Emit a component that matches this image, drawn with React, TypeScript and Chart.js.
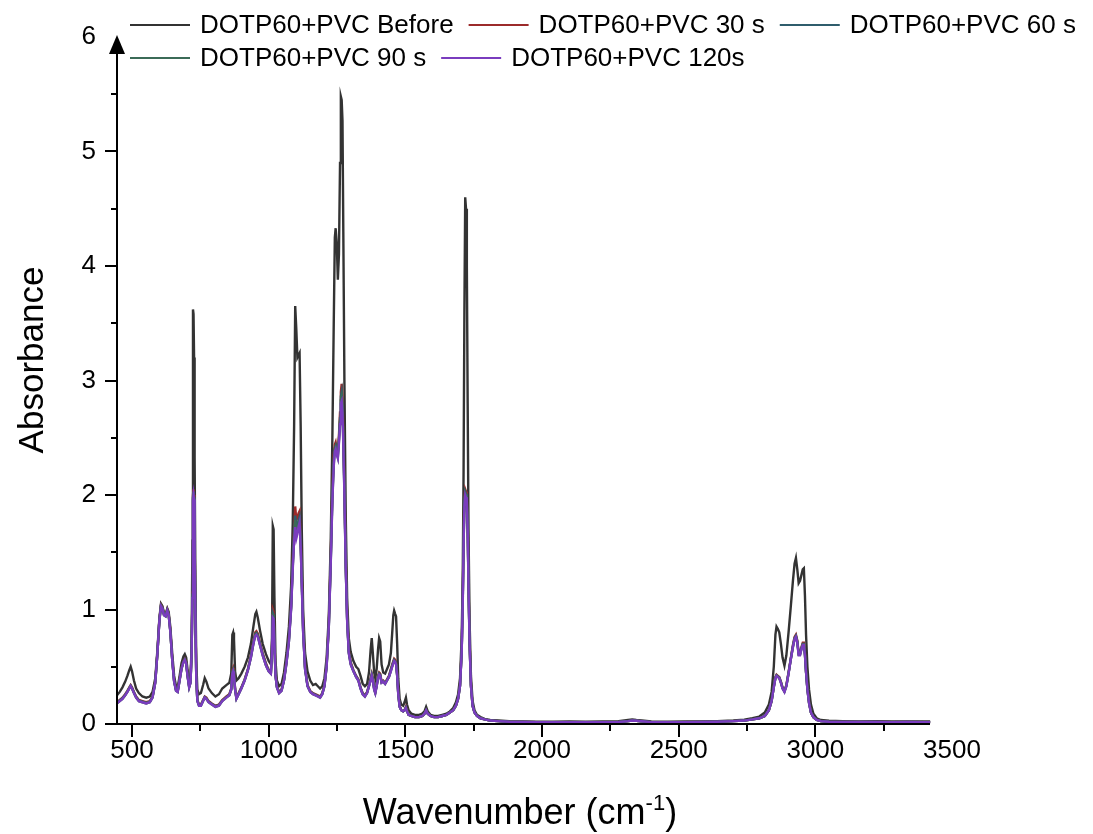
import React, { useEffect, useRef } from 'react';
import { Chart, registerables } from 'chart.js';

Chart.register(...registerables);

// ---------- data ----------
const WAVENUMBER = [
  445, 455, 465, 475, 483, 490, 495, 500, 507, 515, 525, 538, 552, 565, 575,
  585, 593, 600, 606, 611, 617, 623, 629, 634, 640, 647, 654, 661, 667, 674,
  681, 688, 693, 698, 703, 709, 714, 718, 721, 723, 725, 727, 729, 732, 735,
  739, 745, 752, 760, 766, 772, 780, 792, 805, 818, 830, 845, 856, 863, 867,
  870, 873, 877, 882, 890, 900, 912, 924, 935, 944, 951, 955, 960, 968, 978,
  990, 1000, 1008, 1012, 1015, 1018, 1021, 1025, 1030, 1038, 1047, 1056, 1065, 1074, 1082,
  1088, 1093, 1097, 1101, 1105, 1109, 1113, 1117, 1121, 1126, 1133, 1142, 1152, 1162, 1172,
  1180, 1188, 1196, 1204, 1212, 1220, 1227, 1233, 1238, 1242, 1245, 1249, 1253, 1257, 1261,
  1264, 1267, 1270, 1273, 1277, 1282, 1287, 1293, 1300, 1310, 1320, 1328, 1336, 1344, 1352,
  1360, 1367, 1373, 1377, 1381, 1386, 1390, 1395, 1400, 1404, 1408, 1413, 1419, 1426, 1433,
  1440, 1447, 1452, 1456, 1459, 1463, 1466, 1470, 1474, 1479, 1485, 1492, 1497, 1502, 1506,
  1512, 1522, 1535, 1550, 1562, 1570, 1576, 1582, 1592, 1605, 1620, 1635, 1650, 1663, 1675,
  1685, 1693, 1700, 1706, 1710, 1713, 1716, 1719, 1722, 1725, 1728, 1731, 1735, 1740, 1746,
  1753, 1762, 1775, 1790, 1810, 1840, 1880, 1930, 1980, 2040, 2100, 2160, 2220, 2280, 2315,
  2330, 2345, 2365, 2400, 2460, 2520, 2580, 2640, 2700, 2740, 2770, 2795, 2815, 2830, 2840,
  2848, 2854, 2858, 2863, 2868, 2874, 2880, 2887, 2894, 2902, 2910, 2918, 2924, 2929, 2934,
  2939, 2944, 2949, 2954, 2958, 2962, 2966, 2971, 2977, 2984, 2993, 3005, 3020, 3050, 3100,
  3160, 3220, 3280, 3340, 3400, 3420,
];

const BEFORE = [
  .25, .28, .32, .37, .42, .47, .50, .46, .38, .31, .27, .24, .23, .24, .28,
  .40, .65, .92, 1.05, 1.03, .97, .96, 1.01, .98, .85, .62, .42, .33, .32, .42,
  .53, .59, .61, .58, .48, .37, .40, .70, 1.60, 3.62, 3.58, 3.20, 2.33, 1.20, .55,
  .30, .26, .27, .34, .40, .37, .31, .27, .24, .26, .31, .34, .36, .44, .78,
  .80, .74, .46, .38, .40, .44, .50, .58, .70, .85, .96, .98, .93, .82, .70,
  .61, .55, .52, .75, 1.73, 1.70, 1.10, .55, .38, .33, .35, .45, .62, .85, 1.20,
  1.75, 2.60, 3.65, 3.45, 3.20, 3.22, 3.24, 2.60, 1.70, 1.00, .62, .46, .38, .34, .35,
  .33, .31, .33, .40, .58, .95, 1.60, 2.50, 3.50, 4.25, 4.33, 4.20, 3.88, 4.10, 4.90,
  5.48, 5.45, 5.27, 4.30, 3.00, 1.80, 1.10, .75, .63, .55, .50, .48, .42, .35, .33,
  .35, .45, .65, .75, .62, .45, .40, .48, .65, .75, .72, .52, .45, .44, .48,
  .52, .62, .80, .95, .99, .96, .94, .70, .40, .22, .17, .16, .19, .23, .17,
  .12, .09, .08, .08, .09, .11, .15, .11, .08, .07, .07, .08, .09, .11, .14,
  .19, .26, .40, .75, 1.30, 2.20, 3.60, 4.60, 4.50, 4.00, 2.80, 1.70, .90, .42, .20,
  .12, .08, .06, .045, .035, .03, .025, .022, .02, .02, .022, .02, .022, .025, .035,
  .04, .035, .03, .022, .02, .022, .022, .025, .03, .038, .05, .065, .1, .17, .28,
  .5, .78, .85, .83, .8, .7, .58, .51, .6, .8, 1.02, 1.25, 1.4, 1.45, 1.35,
  1.23, 1.25, 1.3, 1.35, 1.36, 1.12, .78, .5, .3, .17, .09, .05, .035, .028, .025,
  .022, .024, .022, .023, .022, .022,
];

const S30 = [
  .19, .21, .23, .26, .29, .32, .34, .32, .28, .24, .21, .20, .19, .20, .24,
  .37, .63, .91, 1.04, 1.02, .96, .95, 1.00, .96, .82, .57, .38, .30, .29, .39,
  .49, .55, .57, .54, .43, .33, .37, .64, 1.15, 2.00, 2.05, 2.00, 1.60, .93, .42,
  .21, .17, .17, .21, .24, .23, .20, .18, .16, .17, .21, .24, .26, .31, .47,
  .49, .45, .31, .23, .27, .32, .39, .48, .60, .72, .80, .81, .79, .71, .62,
  .53, .47, .45, .64, 1.00, .98, .74, .43, .33, .28, .30, .39, .55, .75, 1.04,
  1.42, 1.70, 1.90, 1.78, 1.80, 1.84, 1.86, 1.62, 1.28, .84, .50, .34, .29, .27, .26,
  .25, .24, .27, .34, .52, .88, 1.46, 2.05, 2.35, 2.44, 2.46, 2.40, 2.38, 2.52, 2.72,
  2.90, 2.97, 2.85, 2.55, 2.08, 1.40, .93, .64, .54, .47, .42, .39, .32, .27, .25,
  .28, .34, .40, .44, .40, .31, .28, .34, .42, .45, .44, .37, .38, .36, .39,
  .42, .48, .52, .55, .57, .56, .54, .44, .27, .16, .12, .11, .12, .15, .12,
  .08, .07, .06, .06, .07, .09, .12, .09, .07, .06, .06, .07, .08, .10, .12,
  .16, .22, .34, .64, 1.10, 1.63, 1.97, 2.05, 2.03, 1.97, 1.75, 1.24, .72, .34, .16,
  .10, .07, .05, .04, .03, .025, .02, .018, .016, .015, .016, .015, .016, .018, .025,
  .03, .028, .024, .016, .015, .016, .017, .02, .025, .03, .04, .05, .07, .12, .2,
  .33, .41, .43, .42, .41, .37, .32, .29, .34, .45, .57, .69, .76, .78, .73,
  .62, .62, .67, .71, .71, .62, .46, .31, .19, .1, .06, .035, .025, .02, .018,
  .017, .018, .016, .017, .016, .016,
];

const S60 = [
  .185, .205, .225, .255, .285, .315, .335, .315, .275, .235, .205, .195, .185, .195, .235,
  .365, .625, .905, 1.035, 1.015, .955, .945, .995, .955, .815, .565, .375, .295, .285, .385,
  .485, .545, .565, .535, .425, .325, .365, .63, 1.13, 1.98, 2.03, 1.98, 1.58, .92, .41,
  .205, .165, .165, .205, .235, .225, .195, .175, .155, .165, .205, .235, .255, .305, .455,
  .475, .435, .305, .225, .265, .315, .385, .475, .59, .71, .785, .795, .775, .70, .61,
  .52, .465, .445, .63, .97, .95, .72, .425, .325, .275, .295, .385, .54, .735, 1.02,
  1.39, 1.66, 1.82, 1.70, 1.73, 1.78, 1.81, 1.59, 1.25, .82, .49, .335, .285, .265, .255,
  .245, .235, .265, .335, .51, .865, 1.43, 2.0, 2.30, 2.41, 2.43, 2.38, 2.35, 2.49, 2.67,
  2.86, 2.90, 2.79, 2.50, 2.04, 1.38, .915, .63, .53, .465, .415, .385, .315, .265, .245,
  .275, .335, .39, .43, .39, .305, .275, .335, .41, .44, .43, .365, .375, .355, .385,
  .415, .47, .51, .54, .56, .55, .53, .43, .265, .155, .12, .11, .12, .145, .115,
  .08, .07, .06, .06, .07, .09, .12, .09, .07, .06, .06, .07, .08, .10, .12,
  .16, .22, .335, .63, 1.08, 1.59, 1.94, 2.03, 2.01, 1.95, 1.73, 1.22, .71, .335, .16,
  .10, .07, .05, .04, .03, .025, .02, .018, .016, .015, .016, .015, .016, .018, .025,
  .03, .028, .024, .016, .015, .016, .017, .02, .025, .03, .04, .05, .07, .12, .2,
  .325, .405, .425, .415, .405, .365, .315, .285, .335, .445, .565, .68, .75, .77, .72,
  .61, .61, .66, .70, .70, .61, .455, .305, .185, .1, .06, .035, .025, .02, .018,
  .017, .018, .016, .017, .016, .016,
];

const S90 = [
  .18, .20, .22, .25, .28, .31, .33, .31, .27, .23, .20, .19, .18, .19, .23,
  .36, .62, .90, 1.03, 1.01, .95, .94, .99, .95, .81, .56, .37, .29, .28, .38,
  .48, .54, .56, .53, .42, .32, .36, .62, 1.12, 1.97, 2.02, 1.97, 1.57, .91, .40,
  .20, .16, .16, .20, .23, .22, .19, .17, .15, .16, .20, .23, .25, .30, .45,
  .47, .43, .30, .22, .26, .31, .38, .47, .58, .70, .78, .79, .77, .69, .60,
  .51, .46, .44, .62, .95, .94, .71, .42, .32, .27, .29, .38, .53, .72, 1.01,
  1.37, 1.63, 1.78, 1.66, 1.69, 1.75, 1.78, 1.57, 1.23, .81, .48, .33, .28, .26, .25,
  .24, .23, .26, .33, .50, .855, 1.41, 1.97, 2.27, 2.40, 2.42, 2.37, 2.33, 2.47, 2.64,
  2.83, 2.86, 2.76, 2.47, 2.02, 1.36, .91, .62, .52, .46, .41, .38, .31, .26, .24,
  .27, .33, .385, .425, .385, .30, .27, .33, .405, .435, .425, .36, .37, .35, .38,
  .41, .465, .505, .535, .555, .545, .525, .425, .26, .15, .12, .11, .12, .14, .11,
  .08, .07, .06, .06, .07, .09, .12, .09, .07, .06, .06, .07, .08, .10, .12,
  .16, .22, .333, .625, 1.065, 1.57, 1.92, 2.02, 2.00, 1.94, 1.72, 1.21, .705, .333, .16,
  .10, .07, .05, .04, .03, .025, .02, .018, .016, .015, .016, .015, .016, .018, .025,
  .03, .028, .024, .016, .015, .016, .017, .02, .025, .03, .04, .05, .07, .12, .2,
  .322, .402, .422, .412, .402, .362, .312, .282, .332, .442, .562, .675, .745, .765, .715,
  .605, .605, .655, .695, .695, .605, .452, .302, .182, .1, .06, .035, .025, .02, .018,
  .017, .018, .016, .017, .016, .016,
];

const S120 = [
  .18, .20, .22, .25, .28, .31, .33, .31, .27, .23, .20, .19, .18, .19, .23,
  .36, .62, .90, 1.03, 1.01, .95, .94, .99, .95, .81, .56, .37, .29, .28, .38,
  .48, .54, .56, .53, .42, .32, .36, .62, 1.10, 1.95, 2.00, 1.96, 1.55, .90, .40,
  .20, .16, .16, .20, .23, .22, .19, .17, .15, .16, .20, .23, .25, .30, .44,
  .46, .42, .30, .22, .26, .31, .38, .47, .58, .70, .77, .78, .76, .69, .60,
  .51, .46, .44, .62, .93, .92, .70, .42, .32, .27, .29, .38, .53, .72, 1.00,
  1.35, 1.60, 1.72, 1.62, 1.66, 1.72, 1.76, 1.55, 1.22, .80, .48, .33, .28, .26, .25,
  .24, .23, .26, .33, .50, .85, 1.40, 1.95, 2.25, 2.38, 2.40, 2.35, 2.32, 2.45, 2.62,
  2.80, 2.82, 2.72, 2.45, 2.00, 1.35, .90, .62, .52, .46, .41, .38, .31, .26, .24,
  .27, .33, .38, .42, .38, .30, .27, .33, .40, .43, .42, .36, .37, .35, .38,
  .41, .46, .50, .53, .55, .54, .52, .42, .26, .15, .12, .11, .12, .14, .11,
  .08, .07, .06, .06, .07, .09, .12, .09, .07, .06, .06, .07, .08, .10, .12,
  .16, .22, .33, .62, 1.05, 1.55, 1.90, 2.00, 1.98, 1.92, 1.70, 1.20, .70, .33, .16,
  .10, .07, .05, .04, .03, .025, .02, .018, .016, .015, .016, .015, .016, .018, .025,
  .03, .028, .024, .016, .015, .016, .017, .02, .025, .03, .04, .05, .07, .12, .2,
  .32, .4, .42, .41, .4, .36, .31, .28, .33, .44, .56, .67, .74, .76, .71,
  .6, .6, .65, .69, .69, .6, .45, .3, .18, .1, .06, .035, .025, .02, .018,
  .017, .018, .016, .017, .016, .016,
];

const SERIES_LABELS = [
  'DOTP60+PVC Before',
  'DOTP60+PVC 30 s',
  'DOTP60+PVC 60 s',
  'DOTP60+PVC 90 s',
  'DOTP60+PVC 120s',
];
const SERIES_COLORS = ['#333333', '#9c2b2b', '#2f5d6c', '#3b6b57', '#7a3cbe'];

const X_LABEL_TICKS = [500, 1000, 1500, 2000, 2500, 3000, 3500];
const Y_LABEL_TICKS = [0, 1, 2, 3, 4, 5, 6];
const X_MAJOR_TICKS = [500, 1000, 1500, 2000, 2500, 3000];
const X_MINOR_TICKS = [750, 1250, 1750, 2250, 2750, 3250];
const Y_MAJOR_TICKS = [0, 1, 2, 3, 4, 5];
const Y_MINOR_TICKS = [0.5, 1.5, 2.5, 3.5, 4.5, 5.5];

const X_MIN = 445;
const X_MAX = 3500;
const X_AXIS_END = 3420;
const Y_MIN = 0;
const Y_MAX = 6;

const X_TITLE = 'Wavenumber (cm';
const X_TITLE_SUP = '-1';
const Y_TITLE = 'Absorbance';

const FONT = "'Liberation Sans', Arial, Helvetica, sans-serif";

// ---------- decorations (Origin-style axes, titles, legend) ----------
const originDecor = {
  id: 'originDecor',
  afterDraw(chart: any) {
    const { ctx } = chart;
    const xs = chart.scales.x;
    const ys = chart.scales.y;
    const x0 = Math.round(xs.getPixelForValue(X_MIN));
    const x1 = Math.round(xs.getPixelForValue(X_AXIS_END));
    const y0 = Math.round(ys.getPixelForValue(Y_MIN));
    const yTop = Math.round(ys.getPixelForValue(Y_MAX));

    ctx.save();
    ctx.strokeStyle = '#000';
    ctx.fillStyle = '#000';
    ctx.lineWidth = 2;
    ctx.lineCap = 'butt';

    // x axis line
    ctx.beginPath();
    ctx.moveTo(x0 - 1, y0);
    ctx.lineTo(x1, y0);
    ctx.stroke();
    // x ticks
    X_MAJOR_TICKS.forEach((v) => {
      const px = Math.round(xs.getPixelForValue(v));
      ctx.beginPath();
      ctx.moveTo(px, y0);
      ctx.lineTo(px, y0 + 13);
      ctx.stroke();
    });
    X_MINOR_TICKS.forEach((v) => {
      if (v > X_AXIS_END) return;
      const px = Math.round(xs.getPixelForValue(v));
      ctx.beginPath();
      ctx.moveTo(px, y0);
      ctx.lineTo(px, y0 + 7);
      ctx.stroke();
    });

    // y axis line with arrow
    ctx.beginPath();
    ctx.moveTo(x0, y0 + 1);
    ctx.lineTo(x0, yTop + 12);
    ctx.stroke();
    ctx.beginPath();
    ctx.moveTo(x0, yTop - 2);
    ctx.lineTo(x0 - 8, yTop + 17);
    ctx.lineTo(x0 + 8, yTop + 17);
    ctx.closePath();
    ctx.fill();
    // y ticks
    Y_MAJOR_TICKS.forEach((v) => {
      const py = Math.round(ys.getPixelForValue(v));
      ctx.beginPath();
      ctx.moveTo(x0, py);
      ctx.lineTo(x0 - 12, py);
      ctx.stroke();
    });
    Y_MINOR_TICKS.forEach((v) => {
      const py = Math.round(ys.getPixelForValue(v));
      ctx.beginPath();
      ctx.moveTo(x0, py);
      ctx.lineTo(x0 - 6, py);
      ctx.stroke();
    });

    // axis titles
    ctx.fillStyle = '#000';
    ctx.textBaseline = 'alphabetic';
    ctx.font = `36px ${FONT}`;
    const mainW = ctx.measureText(X_TITLE).width;
    ctx.font = `22px ${FONT}`;
    const supW = ctx.measureText(X_TITLE_SUP).width;
    ctx.font = `36px ${FONT}`;
    const closeW = ctx.measureText(')').width;
    const totalW = mainW + supW + closeW;
    let tx = 520 - totalW / 2;
    const ty = 824;
    ctx.textAlign = 'left';
    ctx.fillText(X_TITLE, tx, ty);
    tx += mainW;
    ctx.font = `22px ${FONT}`;
    ctx.fillText(X_TITLE_SUP, tx, ty - 14);
    tx += supW;
    ctx.font = `36px ${FONT}`;
    ctx.fillText(')', tx, ty);

    ctx.save();
    ctx.translate(43, 360);
    ctx.rotate(-Math.PI / 2);
    ctx.textAlign = 'center';
    ctx.font = `35px ${FONT}`;
    ctx.fillText(Y_TITLE, 0, 0);
    ctx.restore();

    // legend (two rows, Origin style)
    const rows = [[0, 1, 2], [3, 4]];
    const rowY = [25, 58];
    ctx.font = `26px ${FONT}`;
    ctx.textBaseline = 'middle';
    ctx.textAlign = 'left';
    rows.forEach((row, r) => {
      let lx = 130;
      row.forEach((idx) => {
        const ds = chart.data.datasets[idx];
        ctx.strokeStyle = ds.borderColor;
        ctx.lineWidth = 2;
        ctx.beginPath();
        ctx.moveTo(lx, rowY[r]);
        ctx.lineTo(lx + 60, rowY[r]);
        ctx.stroke();
        ctx.fillStyle = '#000';
        ctx.fillText(ds.label, lx + 70, rowY[r] + 1);
        lx += 70 + ctx.measureText(ds.label).width + 15;
      });
    });

    ctx.restore();
  },
};

export default function App() {
  const canvasRef = useRef<HTMLCanvasElement | null>(null);

  useEffect(() => {
    document.body.style.margin = '0';
    const canvas = canvasRef.current;
    if (!canvas) return;
    const seriesValues = [BEFORE, S30, S60, S90, S120];
    const datasets = seriesValues.map((vals, i) => ({
      label: SERIES_LABELS[i],
      data: WAVENUMBER.map((w, j) => ({ x: w, y: vals[j] })).filter((p) => p.y !== undefined),
      borderColor: SERIES_COLORS[i],
      backgroundColor: SERIES_COLORS[i],
      borderWidth: 2.4,
      pointRadius: 0,
      pointHoverRadius: 0,
      tension: 0,
      fill: false,
      order: seriesValues.length - i,
    }));

    const tickFont = { family: FONT, size: 26 };

    const chart = new Chart(canvas, {
      type: 'line',
      data: { datasets },
      options: {
        animation: false,
        responsive: false,
        devicePixelRatio: 1,
        events: [],
        layout: { padding: { left: 0, right: 141, top: 37, bottom: 0 } },
        plugins: {
          legend: { display: false },
          tooltip: { enabled: false },
          title: { display: false },
        },
        scales: {
          x: {
            type: 'linear',
            min: X_MIN,
            max: X_MAX,
            grid: { display: false, drawTicks: false },
            border: { display: false },
            ticks: {
              autoSkip: false,
              maxRotation: 0,
              color: '#000',
              font: tickFont,
              padding: 11,
              callback: (v: any) => String(v),
            },
            afterBuildTicks: (s: any) => {
              s.ticks = X_LABEL_TICKS.map((v) => ({ value: v }));
            },
            afterFit: (s: any) => {
              s.height = 110;
            },
          },
          y: {
            type: 'linear',
            min: Y_MIN,
            max: Y_MAX,
            grid: { display: false, drawTicks: false },
            border: { display: false },
            ticks: {
              autoSkip: false,
              color: '#000',
              font: tickFont,
              padding: 21,
              callback: (v: any) => String(v),
            },
            afterBuildTicks: (s: any) => {
              s.ticks = Y_LABEL_TICKS.map((v) => ({ value: v }));
            },
            afterFit: (s: any) => {
              s.width = 117;
            },
          },
        },
      },
      plugins: [originDecor],
    });

    return () => {
      chart.destroy();
    };
  }, []);

  return (
    <div style={{ width: 1093, height: 834, position: 'relative', background: '#fff' }}>
      <canvas ref={canvasRef} width={1093} height={834} style={{ display: 'block' }} />
    </div>
  );
}
